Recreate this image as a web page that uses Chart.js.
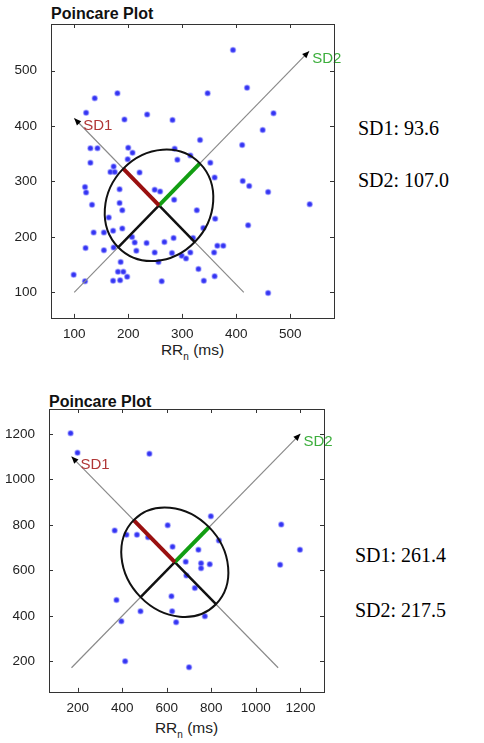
<!DOCTYPE html>
<html>
<head>
<meta charset="utf-8">
<script src="https://cdn.jsdelivr.net/npm/chart.js@4.4.1/dist/chart.umd.min.js"></script>
<style>
body { margin:0; background:#fff; width:484px; height:743px; position:relative; overflow:hidden; font-family:"Liberation Sans", Arial, sans-serif; }
canvas { position:absolute; left:0; }
.ttl { position:absolute; font-weight:bold; font-size:16px; line-height:16px; color:#111; white-space:nowrap; }
.axt { position:absolute; font-size:15.5px; line-height:16px; color:#222; text-align:center; white-space:nowrap; }
.axt sub { font-size:10px; vertical-align:-5px; line-height:0; }
.sd { position:absolute; font-family:"Liberation Serif", "Times New Roman", serif; font-size:20px; line-height:20px; color:#000; white-space:nowrap; }
</style>
</head>
<body>
<div class="ttl" style="left:51px;top:6px">Poincare Plot</div>
<canvas id="plot1" width="345" height="340" style="top:0"></canvas>
<div class="axt" style="left:51px;width:283px;top:342px">RR<sub>n</sub> (ms)</div>
<div class="sd" style="left:358px;top:118px">SD1: 93.6</div>
<div class="sd" style="left:358px;top:170px">SD2: 107.0</div>

<div class="ttl" style="left:49px;top:394px">Poincare Plot</div>
<canvas id="plot2" width="340" height="328" style="top:386px"></canvas>
<div class="axt" style="left:49px;width:275px;top:720px">RR<sub>n</sub> (ms)</div>
<div class="sd" style="left:355px;top:545px">SD1: 261.4</div>
<div class="sd" style="left:355px;top:600px">SD2: 217.5</div>

<script>
// first recording: RR(n) vs RR(n+1)
const rrX1 = [394,420,347,180,138,469,235,122,193,282,449,333,411,130,143,200,208,286,199,130,291,315,352,173,167,175,221,120,122,184,249,259,360,285,133,184,189,164,136,155,172,189,207,212,234,267,284,121,155,173,215,249,281,256,299,307,315,186,99,120,181,191,198,172,185,262,412,424,459,536,327,361,422,339,320,365,376,359,330,340,360,459];
const rrY1 = [537,469,459,459,450,423,421,424,412,411,393,375,366,360,360,361,352,359,340,334,339,347,334,327,317,317,316,290,280,286,285,282,307,267,258,261,248,235,208,208,211,215,200,190,189,191,198,180,176,181,175,172,171,155,166,161,172,155,132,120,137,137,128,121,122,120,301,292,281,259,248,233,221,216,198,184,184,172,142,121,129,99];
const xTicks1 = [100, 200, 300, 400, 500];
const yTicks1 = [100, 200, 300, 400, 500];
const xRange1 = [57, 581];
const yRange1 = [54, 584];
const center1 = 257;
const sd1val1 = 93.6;
const sd2val1 = 107.0;
const axisSD2_1 = [100, 535];   // x=y along identity line
const axisSD1_1 = [414, 100];   // x along the perpendicular line

// second recording
const rrX2 = [168,199,522,366,419,466,516,604,798,626,742,834,685,754,754,793,688,726,621,374,482,624,396,642,771,413,700,1114,1198,1109];
const rrY2 = [1202,1117,1112,775,757,757,746,798,838,704,691,731,638,631,609,627,577,522,486,470,420,420,376,372,398,201,174,801,691,625];
const xTicks2 = [200, 400, 600, 800, 1000, 1200];
const yTicks2 = [200, 400, 600, 800, 1000, 1200];
const xRange2 = [71, 1306];
const yRange2 = [66, 1309];
const center2 = 636;
const sd1val2 = 261.4;
const sd2val2 = 217.5;
const axisSD2_2 = [172, 1200];
const axisSD1_2 = [1100, 172];

const tickFont = { family: "Liberation Sans", size: 13.5 };

function arrowHead(ctx, x0, y0, x1, y1) {
    const a = Math.atan2(y1 - y0, x1 - x0), L = 7, W = 3;
    ctx.beginPath();
    ctx.moveTo(x1, y1);
    ctx.lineTo(x1 - L * Math.cos(a) + W * Math.sin(a), y1 - L * Math.sin(a) - W * Math.cos(a));
    ctx.lineTo(x1 - L * Math.cos(a) - W * Math.sin(a), y1 - L * Math.sin(a) + W * Math.cos(a));
    ctx.closePath();
    ctx.fill();
}

function makePlot(id, p) {
    const c = p.center;
    const d1 = p.sd1 / Math.SQRT2;
    const d2 = p.sd2 / Math.SQRT2;
    const a1 = [{x: p.ax1[0], y: 2 * c - p.ax1[0]}, {x: p.ax1[1], y: 2 * c - p.ax1[1]}];
    const a2 = [{x: p.ax2[0], y: p.ax2[0]}, {x: p.ax2[1], y: p.ax2[1]}];
    const seg = (pts, color, w, order) => ({
        data: pts, showLine: true, borderColor: color, borderWidth: w,
        pointRadius: 0, borderCapStyle: 'butt', order: order
    });

    const extras = {
        id: 'extras',
        afterDatasetsDraw(chart) {
            const ctx = chart.ctx, xs = chart.scales.x, ys = chart.scales.y;
            const cx = xs.getPixelForValue(c), cy = ys.getPixelForValue(c);
            const kx = xs.getPixelForValue(c + 1) - cx, ky = ys.getPixelForValue(c + 1) - cy;
            // ellipse with SD2 along the identity line, SD1 across it
            ctx.save();
            ctx.beginPath();
            ctx.translate(cx, cy);
            ctx.scale(kx, ky);
            ctx.rotate(Math.PI / 4);
            ctx.ellipse(0, 0, p.sd2, p.sd1, 0, 0, 2 * Math.PI);
            ctx.restore();
            ctx.save();
            ctx.lineWidth = 2;
            ctx.strokeStyle = '#111';
            ctx.stroke();
            ctx.restore();
        },
        afterDraw(chart) {
            const ctx = chart.ctx, xs = chart.scales.x, ys = chart.scales.y, ca = chart.chartArea;
            ctx.save();
            ctx.fillStyle = '#000';
            const px = pt => [xs.getPixelForValue(pt.x), ys.getPixelForValue(pt.y)];
            const s1 = px(a1[0]), e1 = px(a1[1]), s2 = px(a2[0]), e2 = px(a2[1]);
            arrowHead(ctx, s1[0], s1[1], e1[0], e1[1]);
            arrowHead(ctx, s2[0], s2[1], e2[0], e2[1]);
            ctx.font = '15px "Liberation Sans"';
            ctx.textBaseline = 'middle';
            ctx.fillStyle = '#b03535';
            ctx.fillText('SD1', e1[0] + 9, e1[1] + 8);
            ctx.fillStyle = '#3cae3c';
            ctx.fillText('SD2', e2[0] + 3, e2[1] + 8);
            // box and inward ticks
            ctx.strokeStyle = '#333';
            ctx.lineWidth = 1;
            ctx.strokeRect(Math.round(ca.left) + 0.5, Math.round(ca.top) + 0.5, Math.round(ca.right - ca.left), Math.round(ca.bottom - ca.top));
            ctx.beginPath();
            xs.ticks.forEach(t => {
                const x = Math.round(xs.getPixelForValue(t.value)) + 0.5;
                ctx.moveTo(x, ca.bottom); ctx.lineTo(x, ca.bottom - 4);
                ctx.moveTo(x, ca.top); ctx.lineTo(x, ca.top + 4);
            });
            ys.ticks.forEach(t => {
                const y = Math.round(ys.getPixelForValue(t.value)) + 0.5;
                ctx.moveTo(ca.left, y); ctx.lineTo(ca.left + 4, y);
                ctx.moveTo(ca.right, y); ctx.lineTo(ca.right - 4, y);
            });
            ctx.stroke();
            ctx.restore();
        }
    };

    new Chart(document.getElementById(id), {
        type: 'scatter',
        data: {
            datasets: [
                {
                    data: p.x.map((v, i) => ({x: v, y: p.y[i]})),
                    pointRadius: 2.5, pointBackgroundColor: '#3434f2',
                    pointBorderColor: 'rgba(120,120,255,0.5)', pointBorderWidth: 1.5, order: 10
                },
                seg(a2, '#8a8a8a', 1.2, 9),
                seg(a1, '#8a8a8a', 1.2, 9),
                seg([{x: c, y: c}, {x: c - d2, y: c - d2}], '#111', 2.5, 5),
                seg([{x: c, y: c}, {x: c + d1, y: c - d1}], '#111', 2.5, 5),
                seg([{x: c, y: c}, {x: c - d1, y: c + d1}], '#9a1010', 4, 1),
                seg([{x: c, y: c}, {x: c + d2, y: c + d2}], '#129e12', 4, 1)
            ]
        },
        options: {
            animation: false,
            responsive: false,
            layout: { padding: { top: p.padTop, right: p.padRight, left: 0, bottom: 0 } },
            plugins: { legend: { display: false }, tooltip: { enabled: false } },
            scales: {
                x: {
                    type: 'linear', min: p.xr[0], max: p.xr[1],
                    grid: { display: false, drawTicks: false }, border: { display: false },
                    afterBuildTicks: s => { s.ticks = p.xt.map(v => ({value: v})); },
                    afterFit: s => { s.height = p.xh; },
                    ticks: { color: '#222', font: tickFont, padding: 8, maxRotation: 0, autoSkip: false, callback: v => String(v) }
                },
                y: {
                    type: 'linear', min: p.yr[0], max: p.yr[1],
                    grid: { display: false, drawTicks: false }, border: { display: false },
                    afterBuildTicks: s => { s.ticks = p.yt.map(v => ({value: v})); },
                    afterFit: s => { s.width = p.yw; },
                    ticks: { color: '#222', font: tickFont, padding: 14, autoSkip: false, callback: v => String(v) }
                }
            }
        },
        plugins: [extras]
    });
}

makePlot('plot1', {
    x: rrX1, y: rrY1, xt: xTicks1, yt: yTicks1, xr: xRange1, yr: yRange1,
    center: center1, sd1: sd1val1, sd2: sd2val1, ax1: axisSD1_1, ax2: axisSD2_1,
    padTop: 24, padRight: 11, yw: 51, xh: 22
});
makePlot('plot2', {
    x: rrX2, y: rrY2, xt: xTicks2, yt: yTicks2, xr: xRange2, yr: yRange2,
    center: center2, sd1: sd1val2, sd2: sd2val2, ax1: axisSD1_2, ax2: axisSD2_2,
    padTop: 23, padRight: 16, yw: 49, xh: 22
});
</script>
</body>
</html>
